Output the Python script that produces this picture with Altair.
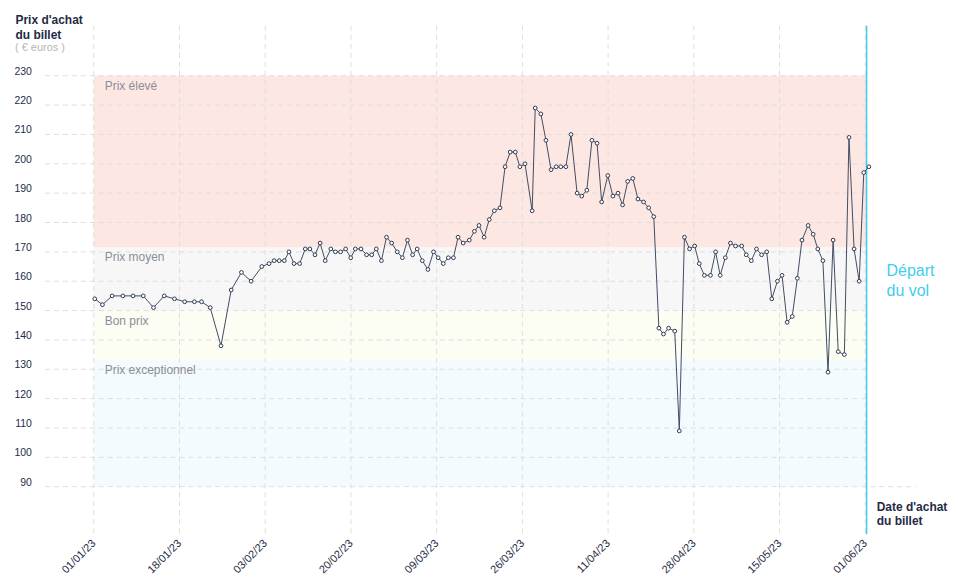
import altair as alt
import pandas as pd

# ---------------- data ----------------
BASE_DATE = "2023-01-01"          # day 0 of the purchase-day offsets

# purchase date of the ticket, in days after 01/01/23
purchase_day = [
    0.2, 1.7, 3.6, 5.7, 7.7, 9.7, 11.7, 13.8, 15.8, 17.8,
    19.7, 21.1, 22.8, 24.9, 26.9, 28.9, 30.8, 32.9, 34.3, 35.3,
    36.3, 37.3, 38.2, 39.2, 40.3, 41.4, 42.3, 43.3, 44.3, 45.3,
    46.4, 47.3, 48.3, 49.3, 50.3, 51.2, 52.3, 53.4, 54.4, 55.3,
    56.3, 57.3, 58.3, 59.4, 60.4, 61.4, 62.4, 63.3, 64.3, 65.4,
    66.5, 67.4, 68.4, 69.4, 70.4, 71.3, 72.3, 73.5, 74.5, 75.4,
    76.4, 77.4, 78.4, 79.5, 80.5, 81.5, 82.5, 83.4, 84.4, 85.8,
    86.4, 87.5, 88.5, 89.5, 90.5, 91.4, 92.4, 93.4, 94.6, 95.5,
    96.5, 97.5, 98.5, 99.4, 100.6, 101.6, 102.6, 103.5, 104.5, 105.5,
    106.5, 107.6, 108.6, 109.6, 110.6, 111.5, 112.5, 113.7, 114.6, 115.6,
    116.6, 117.6, 118.5, 119.5, 120.7, 121.7, 122.6, 123.6, 124.6, 125.6,
    126.8, 127.7, 128.7, 129.7, 130.7, 131.7, 132.7, 133.8, 134.7, 135.7,
    136.7, 137.7, 138.6, 139.8, 140.8, 141.7, 142.7, 143.7, 144.7, 145.7,
    146.9, 147.8, 148.8, 149.8, 150.7, 151.7,
]
# ticket price in euros
price = [
    154, 152, 155, 155, 155, 155, 151, 155, 154, 153,
    153, 153, 151, 138, 157, 163, 160, 165, 166, 167,
    167, 167, 170, 166, 166, 171, 171, 169, 173, 167,
    171, 170, 170, 171, 168, 171, 171, 169, 169, 171,
    167, 175, 173, 170, 168, 174, 169, 171, 167, 164,
    170, 168, 166, 168, 168, 175, 173, 174, 177, 179,
    175, 181, 184, 185, 199, 204, 204, 199, 200, 184,
    219, 217, 208, 198, 199, 199, 199, 210, 190, 189,
    191, 208, 207, 187, 196, 189, 190, 186, 194, 195,
    188, 187, 185, 182, 144, 142, 144, 143, 109, 175,
    171, 172, 166, 162, 162, 170, 162, 168, 173, 172,
    172, 169, 167, 171, 169, 170, 154, 160, 162, 146,
    148, 161, 174, 179, 176, 171, 167, 129, 174, 136,
    135, 209, 171, 160, 197, 199,
]

TICK_LABELS = ["01/01/23", "18/01/23", "03/02/23", "20/02/23", "09/03/23",
               "26/03/23", "11/04/23", "28/04/23", "15/05/23", "01/06/23"]
TICK_LAST_DAY = 151               # 01/06/23, in days after 01/01/23
Y_TICKS = [90, 100, 110, 120, 130, 140, 150, 160, 170, 180, 190, 200, 210, 220, 230]

BAND_NAMES = ["Prix élevé", "Prix moyen", "Bon prix", "Prix exceptionnel"]
BAND_LOW = [171.5, 150, 133, 90]
BAND_HIGH = [230, 171.5, 150, 133]
BAND_COLORS = ["#fde7e2", "#f7f7f8", "#fcfdf3", "#f3fbfe"]

DEPARTURE_DAY = 151.25
DEPARTURE_TEXT = "Départ\ndu vol"
X_DOMAIN_DAYS = [-9.56, 160.94]
Y_DOMAIN = [73.8, 247]

NAVY = "#1f2b45"
GRID = "#dedede"
CYAN = "#3fcdec"

# ---------------- helpers ----------------
DAY_MS = 86400000
base_ms = pd.Timestamp(BASE_DATE).value // 10**6


def to_ms(day):
    return int(round(base_ms + day * DAY_MS))


n_ticks = len(TICK_LABELS)
tick_step = TICK_LAST_DAY / (n_ticks - 1)
tick_ms = [to_ms(i * tick_step) for i in range(n_ticks)]
label_array = "[" + ",".join("'" + s + "'" for s in TICK_LABELS) + "]"
label_expr = f"{label_array}[round((datum.value - {tick_ms[0]}) / {tick_step * DAY_MS})]"

x_scale = alt.Scale(type="utc", domain=[to_ms(X_DOMAIN_DAYS[0]), to_ms(X_DOMAIN_DAYS[1])], nice=False)
y_scale = alt.Scale(domain=Y_DOMAIN, nice=False, zero=False)

prices = pd.DataFrame({"t": [to_ms(d) for d in purchase_day], "price": price})
bands = pd.DataFrame({
    "name": BAND_NAMES, "low": BAND_LOW, "high": BAND_HIGH, "color": BAND_COLORS,
    "start": [to_ms(0)] * len(BAND_NAMES), "end": [to_ms(DEPARTURE_DAY)] * len(BAND_NAMES),
})
ygrid = pd.DataFrame({
    "y": Y_TICKS,
    "label": [str(v) for v in Y_TICKS],
    "start": [to_ms(X_DOMAIN_DAYS[0])] * len(Y_TICKS),
    "end": [to_ms(X_DOMAIN_DAYS[1]) if v == Y_TICKS[0] else to_ms(DEPARTURE_DAY) for v in Y_TICKS],
})
xgrid = pd.DataFrame({"t": tick_ms})
departure = pd.DataFrame({"t": [to_ms(DEPARTURE_DAY)], "label": [DEPARTURE_TEXT]})
unit = pd.DataFrame({"label": ["( € euros )"]})

x_axis = alt.Axis(
    values=tick_ms, labelExpr=label_expr, grid=False, domain=False, ticks=False, tickSize=0,
    labelAngle=-45, labelAlign="right", labelBaseline="middle", labelPadding=7,
    labelFontSize=11, labelColor=NAVY, labelOverlap=False,
    title=["Date d'achat", "du billet"], titleAngle=0, titleAlign="left", titleBaseline="alphabetic",
    titleX=834, titleY=-24.3, titleFontSize=12, titleFontWeight="bold", titleColor=NAVY,
    titleLineHeight=15,
)
y_axis = alt.Axis(
    values=Y_TICKS, grid=False, domain=False, ticks=False, tickSize=0, labels=False,
    title=["Prix d'achat", "du billet"], titleAngle=0, titleAlign="left", titleBaseline="alphabetic",
    titleX=-30, titleY=-2.3, titleFontSize=12, titleFontWeight="bold", titleColor=NAVY,
    titleLineHeight=15,
)

band_layer = alt.Chart(bands).mark_rect().encode(
    x=alt.X("start:T", scale=x_scale, axis=x_axis),
    x2="end:T",
    y=alt.Y("low:Q", scale=y_scale, axis=y_axis),
    y2="high:Q",
    color=alt.Color("color:N", scale=None),
)

ygrid_layer = alt.Chart(ygrid).mark_rule(color=GRID, strokeDash=[5, 4], strokeWidth=1).encode(
    x="start:T", x2="end:T", y="y:Q",
)
ylabels = alt.Chart(ygrid).mark_text(
    align="right", baseline="alphabetic", dx=-13, dy=-1, fontSize=10.5, color=NAVY,
).encode(x="start:T", y="y:Q", text="label:N")

xgrid_layer = alt.Chart(xgrid).mark_rule(color=GRID, strokeDash=[5, 4], strokeWidth=1).encode(
    x="t:T",
)

band_labels = alt.Chart(bands).mark_text(
    align="left", baseline="alphabetic", dx=11, dy=14, fontSize=12, color="#8b8e98",
).encode(x="start:T", y="high:Q", text="name:N")

departure_rule = alt.Chart(departure).mark_rule(color=CYAN, strokeWidth=1.5).encode(x="t:T")
departure_text = alt.Chart(departure).mark_text(
    align="left", baseline="alphabetic", dx=20, fontSize=16, color=CYAN, lineBreak="\n", lineHeight=20,
).encode(x="t:T", y=alt.value(251), text="label:N")

line = alt.Chart(prices).mark_line(color="#414c64", strokeWidth=1).encode(x="t:T", y="price:Q")
points = alt.Chart(prices).mark_circle(
    fill="white", stroke="#2e3950", strokeWidth=1, size=14, opacity=1,
).encode(x="t:T", y="price:Q")

unit_text = alt.Chart(unit).mark_text(
    align="left", baseline="alphabetic", fontSize=11, color="#b5b5b5",
).encode(x=alt.value(-30), y=alt.value(25), text="label:N")

chart = alt.layer(
    band_layer, ygrid_layer, xgrid_layer, ylabels, band_labels, departure_rule,
    line, points, departure_text, unit_text,
).properties(
    width=874, height=510,
    autosize=alt.AutoSizeParams(type="none"),
    padding={"left": 37, "top": 17, "right": 34, "bottom": 40},
).configure(
    font="Liberation Sans",
).configure_axis(
    labelOverlap=False,
).configure_view(stroke=None)

chart.save("out.html", embed_options={"renderer": "svg", "actions": False})
